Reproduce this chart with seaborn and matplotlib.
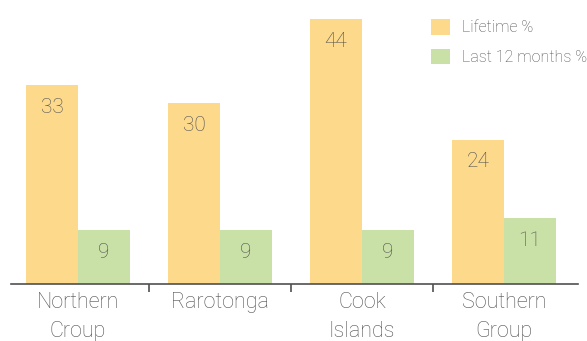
import matplotlib
matplotlib.use("Agg")
import matplotlib.pyplot as plt
import seaborn as sns
import pandas as pd
from matplotlib.patches import Patch

regions = ["Northern\nCroup", "Rarotonga", "Cook\nIslands", "Southern\nGroup"]
lifetime = [33, 30, 44, 24]
last12 = [9, 9, 9, 11]
series_names = ["Lifetime %", "Last 12 months %"]
colors = ["#fcd98b", "#c9e1a7"]

df = pd.DataFrame({
    "region": regions * 2,
    "value": lifetime + last12,
    "series": [series_names[0]] * 4 + [series_names[1]] * 4,
})

sns.set_theme(style="white")
plt.rcParams["font.family"] = ["Roboto", "DejaVu Sans"]
txt = "#505050"

fig = plt.figure(figsize=(5.87, 3.41), dpi=100)
ax = fig.add_axes([11/587, 57/341, 567/587, 284/341])
sns.barplot(data=df, x="region", y="value", hue="series", palette=colors,
            width=0.732, gap=0, ax=ax, legend=False, saturation=1, linewidth=0,
            edgecolor="none")

for cont in ax.containers:
    for bar in cont:
        h = bar.get_height()
        ax.annotate(f"{h:.0f}", (bar.get_x() + bar.get_width()/2, h),
                    xytext=(0, -16), textcoords="offset points",
                    ha="center", va="center", fontsize=15, color=txt,
                    fontweight="light")

ax.set_xlim(-0.472, 3.521)
ax.set_ylim(0, 47.2)
ax.set_xlabel("")
ax.set_ylabel("")
ax.set_yticks([])
for s in ["left", "right", "top"]:
    ax.spines[s].set_visible(False)
ax.spines["bottom"].set_color(txt)
ax.spines["bottom"].set_linewidth(1.2)
ax.set_xticks(range(4))
ax.set_xticklabels(regions, fontsize=15.5, color=txt, fontweight="light", linespacing=1.5)
ax.tick_params(axis="x", which="major", length=0, pad=6)
ax.set_xticks([0.5, 1.5, 2.5], minor=True)
ax.tick_params(axis="x", which="minor", length=6, width=1.2, color=txt, direction="out", bottom=True)

handles = [Patch(facecolor=c, edgecolor="none") for c in colors]
fig.legend(handles, series_names, loc="upper left", bbox_to_anchor=(425/587, 1 - 13/341),
           frameon=False, fontsize=11.5, labelcolor=txt, handlelength=1.15, handleheight=1.1,
           handletextpad=0.75, labelspacing=0.85, borderaxespad=0, prop={"weight": "light", "size": 11.5})

fig.savefig("out.png", dpi=100)
